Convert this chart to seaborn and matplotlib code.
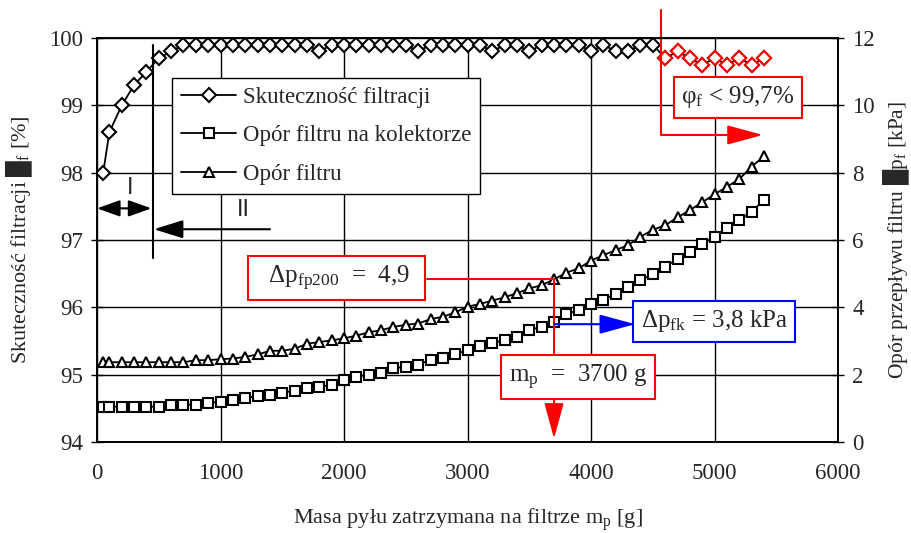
import pandas as pd
import matplotlib
matplotlib.use('Agg')
import matplotlib.pyplot as plt
import seaborn as sns

# masa pylu zatrzymana na filtrze [g]
masa = [50, 100, 200, 300, 400, 500, 600, 700, 800, 900, 1000, 1100, 1200, 1300,
        1400, 1500, 1600, 1700, 1800, 1900, 2000, 2100, 2200, 2300, 2400, 2500,
        2600, 2700, 2800, 2900, 3000, 3100, 3200, 3300, 3400, 3500, 3600, 3700,
        3800, 3900, 4000, 4100, 4200, 4300, 4400, 4500, 4600, 4700, 4800, 4900,
        5000, 5100, 5200, 5300, 5400]

# skutecznosc filtracji [%]
skutecznosc = [98.0, 98.6, 99.0, 99.3, 99.5, 99.7, 99.8, 99.9, 99.9, 99.9, 99.9,
               99.9, 99.9, 99.9, 99.9, 99.9, 99.9, 99.9, 99.8, 99.9, 99.9, 99.9,
               99.9, 99.9, 99.9, 99.9, 99.8, 99.9, 99.9, 99.9, 99.9, 99.9, 99.8,
               99.9, 99.9, 99.8, 99.9, 99.9, 99.9, 99.9, 99.8, 99.9, 99.8, 99.8,
               99.9, 99.9, 99.7, 99.8, 99.7, 99.6, 99.7, 99.6, 99.7, 99.6, 99.7]

# opor filtru na kolektorze [kPa]
opor_kolektor = [1.05, 1.05, 1.05, 1.05, 1.05, 1.05, 1.11, 1.11, 1.11, 1.17, 1.19,
                 1.25, 1.30, 1.37, 1.41, 1.47, 1.52, 1.59, 1.64, 1.70, 1.84, 1.94,
                 2.00, 2.06, 2.19, 2.24, 2.30, 2.44, 2.49, 2.61, 2.73, 2.85, 2.93,
                 3.03, 3.13, 3.33, 3.42, 3.57, 3.80, 3.92, 4.10, 4.22, 4.40, 4.61,
                 4.81, 4.99, 5.21, 5.43, 5.65, 5.88, 6.10, 6.35, 6.59, 6.84, 7.19]

# opor filtru [kPa]
opor_filtru = [2.37, 2.37, 2.37, 2.37, 2.37, 2.37, 2.37, 2.37, 2.43, 2.43, 2.46,
               2.48, 2.53, 2.60, 2.71, 2.71, 2.77, 2.92, 2.97, 3.02, 3.08, 3.16,
               3.26, 3.32, 3.42, 3.48, 3.52, 3.65, 3.72, 3.85, 4.02, 4.10, 4.20,
               4.30, 4.42, 4.56, 4.66, 4.83, 5.03, 5.16, 5.39, 5.55, 5.70, 5.85,
               6.10, 6.30, 6.44, 6.67, 6.89, 7.12, 7.36, 7.58, 7.81, 8.18, 8.49]

df = pd.DataFrame({'masa': masa, 'skutecznosc': skutecznosc,
                   'kolektor': opor_kolektor, 'filtr': opor_filtru})
df_red = df[df['masa'] >= 4600]

sns.set_theme()
sns.set_style('white')
plt.rcParams['font.family'] = ['Liberation Serif', 'DejaVu Sans']
plt.rcParams['mathtext.fontset'] = 'custom'
plt.rcParams['mathtext.rm'] = 'Liberation Serif'
plt.rcParams['mathtext.it'] = 'Liberation Serif:italic'
plt.rcParams['axes.edgecolor'] = 'black'
plt.rcParams['axes.linewidth'] = 1.2

fig = plt.figure(figsize=(9.11, 5.33), dpi=100)
ax = fig.add_axes([0.1065, 0.1707, 0.8135, 0.758])
ax2 = ax.twinx()

sns.lineplot(data=df, x='masa', y='skutecznosc', ax=ax, color='black', lw=1.3,
             marker='D', markersize=7, markerfacecolor='white',
             markeredgecolor='black', markeredgewidth=1.5,
             label='Skuteczność filtracji')
sns.lineplot(data=df_red, x='masa', y='skutecznosc', ax=ax, linestyle='',
             marker='D', markersize=7, markerfacecolor='white',
             markeredgecolor='red', markeredgewidth=1.5, label='_nolegend_')
sns.lineplot(data=df, x='masa', y='kolektor', ax=ax2, color='black', lw=1.3,
             marker='s', markersize=7, markerfacecolor='white',
             markeredgecolor='black', markeredgewidth=1.5,
             label='Opór filtru na kolektorze')
sns.lineplot(data=df, x='masa', y='filtr', ax=ax2, color='black', lw=1.3,
             marker='^', markersize=7, markerfacecolor='white',
             markeredgecolor='black', markeredgewidth=1.5,
             label='Opór filtru')

for a in (ax, ax2):
    if a.get_legend() is not None:
        a.get_legend().remove()

ax.set_xlim(0, 6000)
ax.set_ylim(94, 100)
ax2.set_ylim(0, 12)
ax.set_xticks([0, 1000, 2000, 3000, 4000, 5000, 6000])
ax.set_yticks([94, 95, 96, 97, 98, 99, 100])
ax2.set_yticks([0, 2, 4, 6, 8, 10, 12])
ax.grid(True, color='black', lw=1)
ax2.grid(False)
for a in (ax, ax2):
    a.tick_params(labelsize=16.5, length=8, width=1, color='black')
    for s in a.spines.values():
        s.set_color('black')
ax.tick_params(axis='y', direction='inout', pad=6)
ax2.tick_params(axis='y', direction='inout', pad=6)
ax.tick_params(axis='x', direction='out', length=5, pad=10)

ax.set_xlabel('Masa pyłu zatrzymana na filtrze m$_\\mathrm{p}$ [g]', fontsize=16)
ax.set_ylabel('Skuteczność filtracji █$_\\mathrm{f}$ [%]', fontsize=16)
ax2.set_ylabel('Opór przepływu filtru █p$_\\mathrm{f}$ [kPa]', fontsize=15.5)
ax.xaxis.set_label_coords(0.5, -0.16)
ax.yaxis.set_label_coords(-0.084, 0.5)
ax2.yaxis.set_label_coords(1.058, 0.5)

h1, l1 = ax.get_legend_handles_labels()
h2, l2 = ax2.get_legend_handles_labels()
leg = ax2.legend(h1 + h2, l1 + l2, loc='upper left', bbox_to_anchor=(0.101, 0.901),
                 borderaxespad=0, fontsize=16.5, frameon=True, fancybox=False,
                 framealpha=1, edgecolor='black', handlelength=2.4,
                 handletextpad=0.3, labelspacing=0.75, borderpad=0.4)
leg.get_frame().set_linewidth(1)

# strefy I i II
ax.plot([450, 450], [99.9, 96.73], color='black', lw=1.5)
ax.annotate('', xy=(0, 97.47), xytext=(440, 97.47),
            arrowprops=dict(arrowstyle='<|-|>,head_length=0.7,head_width=0.25',
                            mutation_scale=20, color='black', lw=1.5,
                            shrinkA=0, shrinkB=0))
ax.text(267, 97.77, 'I', fontsize=17, family='Liberation Sans', ha='center', va='center')
ax.annotate('', xy=(460, 97.16), xytext=(1400, 97.16),
            arrowprops=dict(arrowstyle='-|>,head_length=0.9,head_width=0.28',
                            mutation_scale=20, color='black', lw=1.5,
                            shrinkA=0, shrinkB=0))
ax.text(1182, 97.45, 'II', fontsize=17, family='Liberation Sans', ha='center', va='center')

# granica skutecznosci
ax.plot([4570, 4570], [100.42, 98.56], color='red', lw=1.5, clip_on=False)
ax.annotate('', xy=(5390, 98.56), xytext=(4570, 98.56),
            arrowprops=dict(arrowstyle='-|>,head_length=1.1,head_width=0.3',
                            mutation_scale=20, color='red', lw=1.5,
                            shrinkA=0, shrinkB=0))
ax.text(5190, 99.12, 'φ$_\\mathrm{f}$ < 99,7%', fontsize=18, ha='center', va='center',
        bbox=dict(boxstyle='square,pad=0.3', fc='white', ec='red', lw=1.5), zorder=5)

# odczyt dla 3700 g
ax2.plot([2672, 3700], [4.84, 4.84], color='red', lw=1.5)
ax2.annotate('', xy=(3700, 0.1), xytext=(3700, 4.84),
             arrowprops=dict(arrowstyle='-|>,head_length=1.1,head_width=0.3',
                             mutation_scale=20, color='red', lw=1.5,
                             shrinkA=0, shrinkB=0))
ax2.text(1940, 4.87, '  Δp$_\\mathrm{fp200}$  =  4,9  ', fontsize=18, ha='center', va='center',
         bbox=dict(boxstyle='square,pad=0.3', fc='white', ec='red', lw=1.5), zorder=5)
ax2.text(3895, 1.93, 'm$_\\mathrm{p}$  =  3700 g', fontsize=18, ha='center', va='center',
         bbox=dict(boxstyle='square,pad=0.3', fc='white', ec='red', lw=1.5), zorder=5)
ax2.annotate('', xy=(4356, 3.5), xytext=(3700, 3.5),
             arrowprops=dict(arrowstyle='-|>,head_length=1.1,head_width=0.3',
                             mutation_scale=20, color='blue', lw=1.5,
                             shrinkA=0, shrinkB=0))
ax2.text(4996, 3.59, 'Δp$_\\mathrm{fk}$ = 3,8 kPa', fontsize=18, ha='center', va='center',
         bbox=dict(boxstyle='square,pad=0.3', fc='white', ec='blue', lw=1.5), zorder=5)

fig.savefig('out.png', dpi=100)
